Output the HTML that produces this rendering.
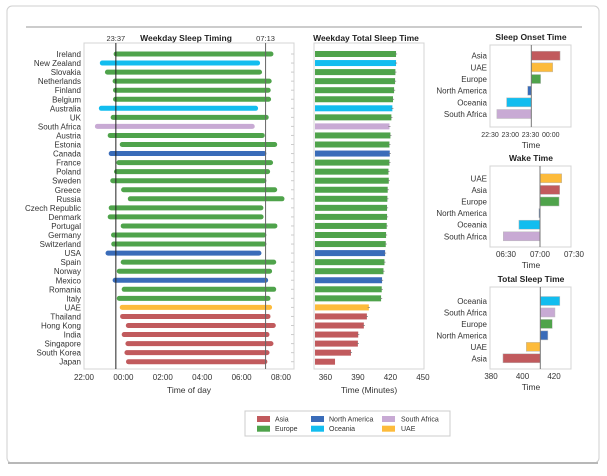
<!DOCTYPE html>
<html><head><meta charset="utf-8"><style>
body{margin:0;background:#fff;width:607px;height:471px;overflow:hidden;font-family:"Liberation Sans",sans-serif}
</style></head><body>
<svg id="s" width="607" height="471" xmlns="http://www.w3.org/2000/svg" font-family="Liberation Sans, sans-serif">
<rect x="7" y="6" width="592" height="457" rx="5" fill="#fff" stroke="#cfcfcf"/>
<line x1="8" y1="463" x2="598" y2="463" stroke="#b8b8b8" stroke-width="2"/>
<line x1="26" y1="27" x2="582" y2="27" stroke="#9a9a9a" stroke-width="1"/>
<g id="g"></g>
</svg>
<script>
const countries=["Ireland","New Zealand","Slovakia","Netherlands","Finland","Belgium","Australia","UK","South Africa","Austria","Estonia","Canada","France","Poland","Sweden","Greece","Russia","Czech Republic","Denmark","Portugal","Germany","Switzerland","USA","Spain","Norway","Mexico","Romania","Italy","UAE","Thailand","Hong Kong","India","Singapore","South Korea","Japan"];
const regions=["Europe","Oceania","Europe","Europe","Europe","Europe","Oceania","Europe","South Africa","Europe","Europe","North America","Europe","Europe","Europe","Europe","Europe","Europe","Europe","Europe","Europe","Europe","North America","Europe","Europe","North America","Europe","Europe","UAE","Asia","Asia","Asia","Asia","Asia","Asia"];
const onset=[-0.37,-1.07,-0.81,-0.42,-0.40,-0.40,-1.12,-0.52,-1.32,-0.67,-0.06,-0.62,-0.23,-0.35,-0.54,0.01,0.35,-0.62,-0.67,-0.01,-0.50,-0.49,-0.78,-0.01,-0.21,-0.42,0.04,-0.21,-0.06,-0.04,0.25,0.04,0.23,0.18,0.26];
const wake=[7.49,6.81,6.91,7.40,7.35,7.37,6.71,7.25,6.54,7.05,7.68,7.13,7.47,7.32,7.13,7.68,8.05,6.98,6.99,7.69,7.13,7.13,6.88,7.63,7.42,7.22,7.63,7.34,7.42,7.34,7.61,7.29,7.49,7.29,7.18];
const totalSleep=[425.2,425.2,424.6,424.3,423.4,422.4,421.8,420.9,419.1,420.0,419.1,419.4,419.1,418.2,418.5,417.5,417.2,416.9,416.9,416.6,416.0,415.7,415.1,414.5,413.6,412.3,412.0,411.4,400.1,398.3,395.5,390.3,390.0,383.6,368.9];
const meanOnset=-0.383, meanWake=7.217;
const timeTicks=[-2,0,2,4,6,8], timeTickLabels=["22:00","00:00","02:00","04:00","06:00","08:00"];
const tstTicks=[360,390,420,450];
const onsetRegions=["Asia","UAE","Europe","North America","Oceania","South Africa"];
const onsetVals=[0.23,0.05,-0.25,-0.57,-1.09,-1.33];
const onsetBase=-0.48;
const onsetTicks=[-1.5,-1,-0.5,0], onsetTickLabels=["22:30","23:00","23:30","00:00"];
const wakeRegions=["UAE","Asia","Europe","North America","Oceania","South Africa"];
const wakeVals=[7.32,7.29,7.28,6.985,6.69,6.46];
const wakeBase=7.0;
const wakeTicks=[6.5,7,7.5], wakeTickLabels=["06:30","07:00","07:30"];
const tsRegions=["Oceania","South Africa","Europe","North America","UAE","Asia"];
const tsVals=[423.7,420.6,418.9,416.1,402.4,387.6];
const tsBase=411.3;
const tsTicks=[380,400,420];
const legendItems=["Asia","Europe","North America","Oceania","South Africa","UAE"];

const colors={"Asia":"#c15a5d","Europe":"#4fa34b","North America":"#3a6cb9","Oceania":"#12bdef","South Africa":"#c8aad4","UAE":"#fdbb3b"};
const NS="http://www.w3.org/2000/svg", G=document.getElementById('g');
function el(t,a,txt){const e=document.createElementNS(NS,t);for(const k in a)e.setAttribute(k,a[k]);if(txt!==undefined)e.textContent=txt;G.appendChild(e);return e;}
function lin(d0,d1,r0,r1){return v=>r0+(v-d0)/(d1-d0)*(r1-r0);}
const rowY=i=>54+i*9.05;

// Panel 1
const x1=lin(-2,8,84,281);
let e=el('rect',{x:84,y:43,width:210,height:326,fill:"none",stroke:"#d4d4d4"});

e=el('text',{x:186,y:41,"font-size":8.5,"font-weight":"bold","text-anchor":"middle",fill:"#222"},"Weekday Sleep Timing");

countries.forEach((c,i)=>{const y=rowY(i);
 e=el('text',{x:81,y:y+3,"font-size":8,"text-anchor":"end",fill:"#333"},c);
 
 e=el('line',{x1:x1(onset[i]),x2:x1(wake[i]),y1:y,y2:y,stroke:colors[regions[i]],"stroke-width":5,"stroke-linecap":"round"});
 
 e=el('line',{x1:294,x2:291,y1:y,y2:y,stroke:"#ccc"});
 
});
[[meanOnset,"23:37"],[meanWake,"07:13"]].forEach(([v,l])=>{
 e=el('line',{x1:x1(v),x2:x1(v),y1:43,y2:369,stroke:v<3?"#222":"#666","stroke-width":1});
 
 e=el('text',{x:x1(v),y:41,"font-size":7.5,"text-anchor":"middle",fill:"#333"},l);
 
});
timeTicks.forEach((t,i)=>{e=el('text',{x:x1(t),y:380,"font-size":8,"text-anchor":"middle",fill:"#333"},timeTickLabels[i]);
 });
e=el('text',{x:189,y:393,"font-size":8.5,"text-anchor":"middle",fill:"#333"},"Time of day");


// Panel 2
const x2=lin(349.5,451,314,424);
e=el('rect',{x:314,y:43,width:110,height:326,fill:"none",stroke:"#d4d4d4"});

e=el('text',{x:366,y:41,"font-size":8.5,"font-weight":"bold","text-anchor":"middle",fill:"#222"},"Weekday Total Sleep Time");

countries.forEach((c,i)=>{const y=rowY(i);
 e=el('rect',{x:x2(349.5)+1,y:y-3,width:x2(totalSleep[i])-x2(349.5)-1,height:6,fill:colors[regions[i]]});
 
 if(i<34){e=el('line',{x1:x2(totalSleep[i]-1),x2:x2(totalSleep[i]+1),y1:y,y2:y,stroke:"#777","stroke-width":0.7});
 }
});
tstTicks.forEach(t=>{e=el('text',{x:x2(t),y:380,"font-size":8,"text-anchor":"middle",fill:"#333"},t);
 });
e=el('text',{x:369,y:393,"font-size":8.5,"text-anchor":"middle",fill:"#333"},"Time (Minutes)");


// small panels
function small(title,top,bottom,ys,labels,vals,base,xs,ticks,tl,name,tfs){
 e=el('rect',{x:490,y:top,width:81,height:bottom-top,fill:"none",stroke:"#d4d4d4"});
 
 e=el('text',{x:531,y:top-5,"font-size":8.5,"font-weight":"bold","text-anchor":"middle",fill:"#222"},title);
 
 labels.forEach((l,i)=>{const y=ys[0]+i*ys[1];
  e=el('text',{x:487,y:y+3,"font-size":8,"text-anchor":"end",fill:"#333"},l);
  
  const a=xs(Math.min(vals[i],base)),b=xs(Math.max(vals[i],base));
  e=el('rect',{x:a,y:y-4.5,width:Math.max(b-a,1),height:9,fill:colors[l],stroke:"#bbb","stroke-width":0.5});
  
 });
 e=el('line',{x1:xs(base),x2:xs(base),y1:top,y2:bottom,stroke:"#777"});
 
 ticks.forEach((t,i)=>{e=el('text',{x:xs(t),y:bottom+10,"font-size":tfs,"text-anchor":"middle",fill:"#333"},tl[i]);
  });
 e=el('text',{x:531,y:bottom+21,"font-size":8.5,"text-anchor":"middle",fill:"#333"},"Time");
 
}
small("Sleep Onset Time",45,127,[55.7,11.66],onsetRegions,onsetVals,onsetBase,lin(-1.5,0.5,490,571),onsetTicks,onsetTickLabels,'onset',7);
small("Wake Time",166,247,[178.3,11.6],wakeRegions,wakeVals,wakeBase,lin(7,7.5,540,574),wakeTicks,wakeTickLabels,'wake',8);
small("Total Sleep Time",287,369,[301,11.46],tsRegions,tsVals,tsBase,lin(380,420,491,554),tsTicks,tsTicks,'total',8);

// legend
e=el('rect',{x:245,y:411,width:205,height:25,fill:"#fff",stroke:"#ccc"});

legendItems.forEach((l,i)=>{const c=Math.floor(i/2),r=i%2;const sx=[257,311,382][c],tx=[275,329,401][c],y=419+r*9.7;
 e=el('rect',{x:sx,y:y-3,width:13,height:6,fill:colors[l]});
 
 e=el('text',{x:tx,y:y+2.5,"font-size":7,fill:"#333"},l);
 
});
</script>
</body></html>
